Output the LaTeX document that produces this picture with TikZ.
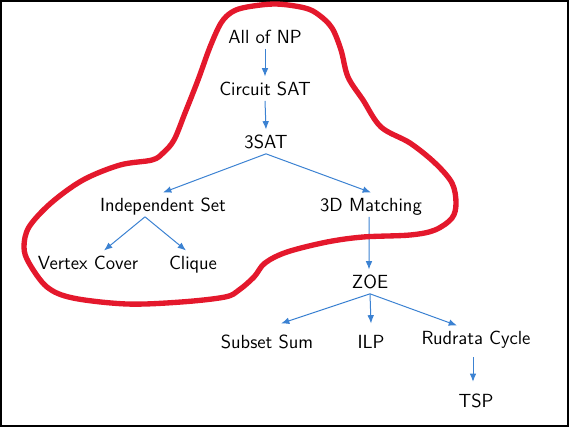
\documentclass[tikz,border=0pt]{standalone}
\usepackage{fontspec}
\usetikzlibrary{arrows.meta,calc}
\definecolor{arrblue}{RGB}{60,130,210}
\definecolor{blobred}{RGB}{228,24,44}

\begin{document}
\begin{tikzpicture}[
  x=0.6pt, y=-0.6pt,
  font=\sffamily\fontsize{11.4}{13}\selectfont,
  >={Latex[length=5pt,width=4pt]},
  prob/.style={anchor=base, inner sep=3.3pt, text height=7.6pt, text depth=0pt},
  arr/.style={->, arrblue, line width=0.6pt},
  blob/.style={blobred, line width=3.2pt, line join=round},
]
\useasboundingbox (0,0) rectangle (569,427);
\draw[black, line width=1.2pt] (1,1) rectangle (568,426);

% --- Reduction chain ---
\node[prob] (np)   at (265,43)  {All of NP};
\node[prob] (csat) at (265,95)  {Circuit SAT};
\node[prob] (sat)  at (266,148) {3SAT};
\node[prob] (ind)  at (163,211) {Independent Set};
\node[prob] (tdm)  at (371,211) {3D Matching};
\node[prob] (vc)   at (88,269)  {Vertex Cover};
\node[prob] (clq)  at (193,269) {Clique};
\node[prob] (zoe)  at (370,288) {ZOE};
\node[prob] (ssum) at (267,348) {Subset Sum};
\node[prob] (ilp)  at (371,348) {ILP};
\node[prob] (rud)  at (476,344) {Rudrata Cycle};
\node[prob] (tsp)  at (476,407) {TSP};

% --- Arrows ---
\draw[arr] (np.south) -- (csat.north);
\draw[arr] (csat.south) -- (sat.north);
\draw[arr] (sat.south) -- (ind.north);
\draw[arr] (sat.south) -- (tdm.north);
\draw[arr] ([xshift=-10.8pt]ind.south) -- ([xshift=9.6pt]vc.north);
\draw[arr] ([xshift=-10.8pt]ind.south) -- ([xshift=-4.2pt]clq.north);
\draw[arr] ([xshift=-1.2pt]tdm.south) -- ([xshift=-0.6pt]zoe.north);
\draw[arr] (zoe.south) -- ([shift={(8.4pt,3.6pt)}]ssum.north);
\draw[arr] (zoe.south) -- ([yshift=3.6pt]ilp.north);
\draw[arr] (zoe.south) -- ([xshift=-11.4pt]rud.north);
\draw[arr, shorten <=4.5pt, shorten >=4pt]
  ([xshift=-1.8pt]rud.south) -- ([xshift=-1.8pt]tsp.north);

% --- Hand-drawn outline round the first group ---
\draw[blob] plot[smooth cycle, tension=0.55] coordinates {
  (232,12) (247,7) (276,4) (305,8) (319,15) (332,28) (341,50) (348,77)
  (363,100) (381,127) (410,143) (435,163) (452,183) (456,203) (452,218)
  (435,230) (410,235) (363,237) (327,242) (287,252) (265,263) (254,277)
  (239,290) (225,297) (181,302) (127,304) (73,298) (47,287) (29,263)
  (24,247) (29,227) (51,203) (83,180) (120,165) (152,160) (163,153)
  (174,140) (185,113) (198,80) (210,47) (221,23)};

\end{tikzpicture}
\end{document}
